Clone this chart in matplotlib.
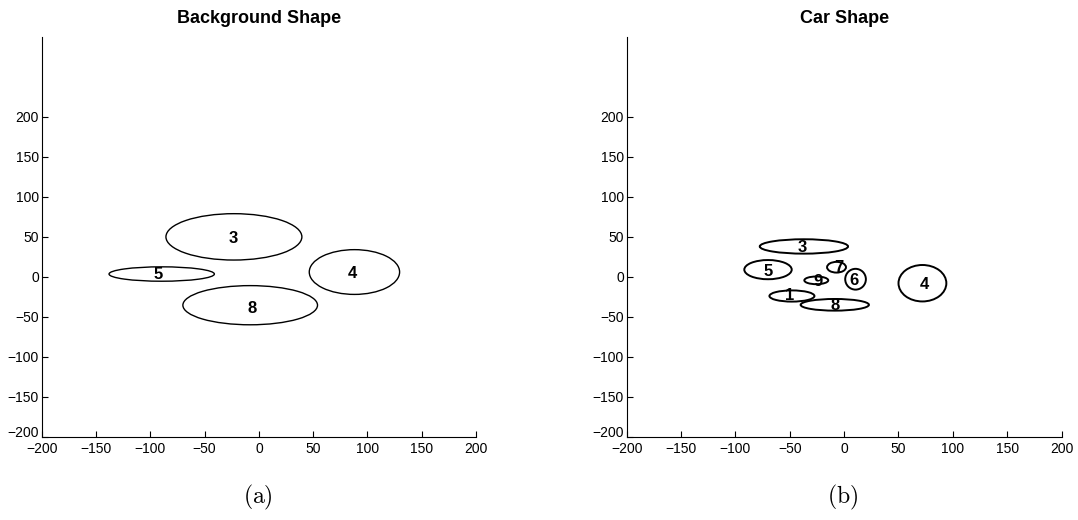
import matplotlib
matplotlib.use("Agg")
import matplotlib.pyplot as plt
import matplotlib.transforms as mtransforms
from matplotlib.patches import Ellipse

plt.rcParams['font.family'] = ['Liberation Sans', 'DejaVu Sans']
plt.rcParams['mathtext.fontset'] = 'cm'

# Background shape: blob id, centre x, centre y, half width, half height
fondo_ids = ["3", "5", "4", "8"]
fondo_cx = [-23, -89.5, 88, -8]
fondo_cy = [50, 3.5, 6, -35.5]
fondo_ax = [62.6, 48.5, 41.6, 62]
fondo_ay = [29, 9, 28, 24.5]
fondo_lx = [-23.5, -93, 86, -6.6]
fondo_ly = [48, 3, 4, -40]

# Car shape
auto_ids = ["3", "5", "7", "6", "9", "4", "1", "8"]
auto_cx = [-37, -70, -7, 10.5, -25.6, 72, -48, -8.6]
auto_cy = [38, 9, 12, -3, -4.4, -8, -24, -35]
auto_ax = [40.6, 21.8, 8.7, 9.5, 11, 22, 20.7, 31.4]
auto_ay = [9, 12, 6.7, 13, 4.8, 22.8, 7, 7.3]
auto_lx = [-38.5, -70, -5, 9, -24, 73.7, -50, -8]
auto_ly = [37, 6.7, 12, -4, -6, -10, -23, -36]

ticks = [-200, -150, -100, -50, 0, 50, 100, 150, 200]


def dibujar(ax, titulo, ids, cx, cy, sx, sy, lx, ly, grosor):
    for i in range(len(ids)):
        ax.add_patch(Ellipse((cx[i], cy[i]), 2 * sx[i], 2 * sy[i],
                             fill=False, edgecolor='black', linewidth=grosor))
        ax.text(lx[i], ly[i], ids[i], ha='center', va='center',
                fontsize=12, fontweight='bold')
    ax.set_xlim(-200, 200)
    ax.set_ylim(-200, 300)
    ax.set_xticks(ticks)
    ax.set_yticks(ticks)
    ax.spines['top'].set_visible(False)
    ax.spines['right'].set_visible(False)
    ax.tick_params(direction='in', length=4, labelsize=10)
    ax.tick_params(axis='x', pad=4)
    ax.tick_params(axis='y', pad=2)
    ax.set_title(titulo, fontsize=13, fontweight='bold', pad=10)
    # la etiqueta -200 del eje y queda un poco por encima de la esquina
    etiqueta = ax.get_yticklabels()[0]
    etiqueta.set_transform(etiqueta.get_transform() +
                           mtransforms.ScaledTranslation(0, 4 / 72, fig.dpi_scale_trans))


fig = plt.figure(figsize=(10.78, 5.2), dpi=100)
ax1 = fig.add_axes([0.0387, 0.1602, 0.4029, 0.7686])
ax2 = fig.add_axes([0.5813, 0.1602, 0.4035, 0.7686])

dibujar(ax1, "Background Shape", fondo_ids, fondo_cx, fondo_cy,
        fondo_ax, fondo_ay, fondo_lx, fondo_ly, 1.0)
dibujar(ax2, "Car Shape", auto_ids, auto_cx, auto_cy,
        auto_ax, auto_ay, auto_lx, auto_ly, 1.4)

fig.text(258 / 1078, 1 - 497 / 520, r'$\mathrm{(a)}$', ha='center', va='center', fontsize=17)
fig.text(843 / 1078, 1 - 497 / 520, r'$\mathrm{(b)}$', ha='center', va='center', fontsize=17)

fig.savefig("out.png", dpi=100)
